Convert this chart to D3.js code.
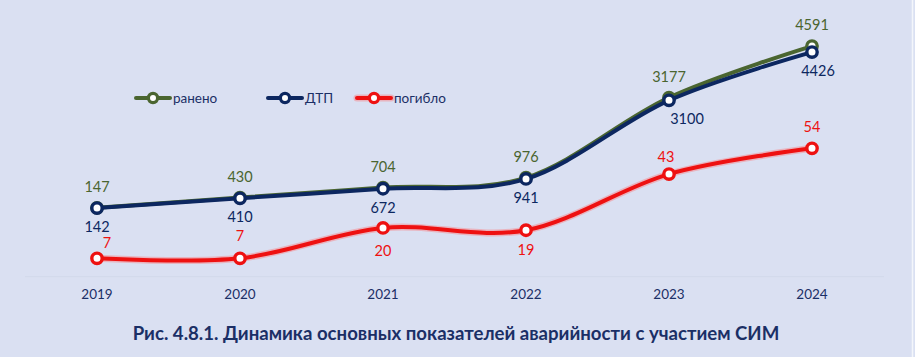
<!DOCTYPE html>
<html><head><meta charset="utf-8">
<script src="https://cdn.jsdelivr.net/npm/d3@7"></script>
<style>
body{margin:0;background:#dae0f2}
svg{display:block}
text{font-family:Lato,"Open Sans",sans-serif}
</style></head>
<body><svg width="915" height="357"></svg>
<script>
// ---- data ----
const years = ["2019","2020","2021","2022","2023","2024"];
const injured = [147, 430, 704, 976, 3177, 4591];     // ранено
const accidents = [142, 410, 672, 941, 3100, 4426];   // ДТП
const killed = [7, 7, 20, 19, 43, 54];                // погибло
const seriesNames = ["ранено", "ДТП", "погибло"];
const title = "Рис. 4.8.1. Динамика основных показателей аварийности с участием СИМ";

// ---- style ----
const C = {bg:"#dae0f2", green:"#4a6530", navy:"#0c2760", red:"#ee1111", text:"#1b2f66"};
const redLabelDy = [-15, -22, 23, 20, -17, -21];
const redLabelDx = [10, 0, 0, 0, -3, 0];
const navyLabelDx = [0, 0, 0, 0, 18, 6];

const svg = d3.select("svg");
svg.append("rect").attr("width",915).attr("height",357).attr("fill",C.bg);
svg.append("line").attr("x1",912.5).attr("x2",912.5).attr("y1",0).attr("y2",357)
  .attr("stroke","#f4f6fb").attr("stroke-width",1.5);

const x = d3.scalePoint().domain(years).range([97, 812]);
const y1 = d3.scaleLinear().domain([0, 5000]).range([213.2, 31.2]);
const y2 = d3.scaleLinear().domain([0, 60]).range([274.7, 134.3]);

// faint category axis line
svg.append("line").attr("x1",25).attr("x2",884).attr("y1",y2(0)+2).attr("y2",y2(0)+2)
  .attr("stroke","#d2d9ea").attr("stroke-width",1);

// year labels
svg.append("g").selectAll("text").data(years).join("text")
  .attr("x", d=>x(d)).attr("y", 294).attr("dy","0.35em")
  .attr("text-anchor","middle").attr("font-size",13.5).attr("fill",C.text)
  .text(d=>d);

const curve = d3.curveCardinal.tension(0);
function drawSeries(vals, y, color, glow){
  const line = d3.line().x((d,i)=>x(years[i])).y(d=>y(d)).curve(curve);
  const g = svg.append("g");
  if (glow){
    g.append("path").attr("d", line(vals)).attr("fill","none")
      .attr("stroke","#ff7070").attr("stroke-opacity",0.4).attr("stroke-width",7)
      .attr("stroke-linecap","round");
  }
  g.append("path").attr("d", line(vals)).attr("fill","none")
    .attr("stroke", color).attr("stroke-width",4).attr("stroke-linecap","round");
  g.selectAll("circle").data(vals).join("circle")
    .attr("cx",(d,i)=>x(years[i])).attr("cy", d=>y(d)).attr("r",5.2)
    .attr("fill","#ffffff").attr("stroke",color).attr("stroke-width",3.4);
}
drawSeries(injured, y1, C.green, false);
drawSeries(accidents, y1, C.navy, false);
drawSeries(killed, y2, C.red, true);

// data labels
svg.append("g").selectAll("text").data(injured).join("text")
  .attr("x",(d,i)=>x(years[i])).attr("y", d=>y1(d)-21).attr("dy","0.35em")
  .attr("text-anchor","middle").attr("font-size",14.5).attr("fill",C.green).text(d=>d);
svg.append("g").selectAll("text").data(accidents).join("text")
  .attr("x",(d,i)=>x(years[i])+navyLabelDx[i]).attr("y", d=>y1(d)+19).attr("dy","0.35em")
  .attr("text-anchor","middle").attr("font-size",14.5).attr("fill",C.navy).text(d=>d);
svg.append("g").selectAll("text").data(killed).join("text")
  .attr("x",(d,i)=>x(years[i])+redLabelDx[i]).attr("y",(d,i)=>y2(d)+redLabelDy[i]).attr("dy","0.35em")
  .attr("text-anchor","middle").attr("font-size",14.5).attr("fill",C.red).text(d=>d);

// legend
const legendX = [136, 268, 357];
const legendColors = [C.green, C.navy, C.red];
const lg = svg.append("g");
seriesNames.forEach((name,i)=>{
  const g = lg.append("g").attr("transform",`translate(${legendX[i]},98)`);
  if (i===2) g.append("line").attr("x1",0).attr("x2",34).attr("stroke","#ff7070")
      .attr("stroke-opacity",0.4).attr("stroke-width",7).attr("stroke-linecap","round");
  g.append("line").attr("x1",0).attr("x2",34).attr("stroke",legendColors[i]).attr("stroke-width",4).attr("stroke-linecap","round");
  g.append("circle").attr("cx",17).attr("r",4.6).attr("fill","#fff").attr("stroke",legendColors[i]).attr("stroke-width",3.2);
  g.append("text").attr("x",37).attr("dy","0.35em").attr("font-size",13.5).attr("fill",C.text).text(name);
});

// title
svg.append("text").attr("x",456).attr("y",333).attr("dy","0.35em").attr("text-anchor","middle")
  .attr("font-size",18.6).attr("font-weight","bold").attr("fill",C.text).text(title);
</script></body></html>
